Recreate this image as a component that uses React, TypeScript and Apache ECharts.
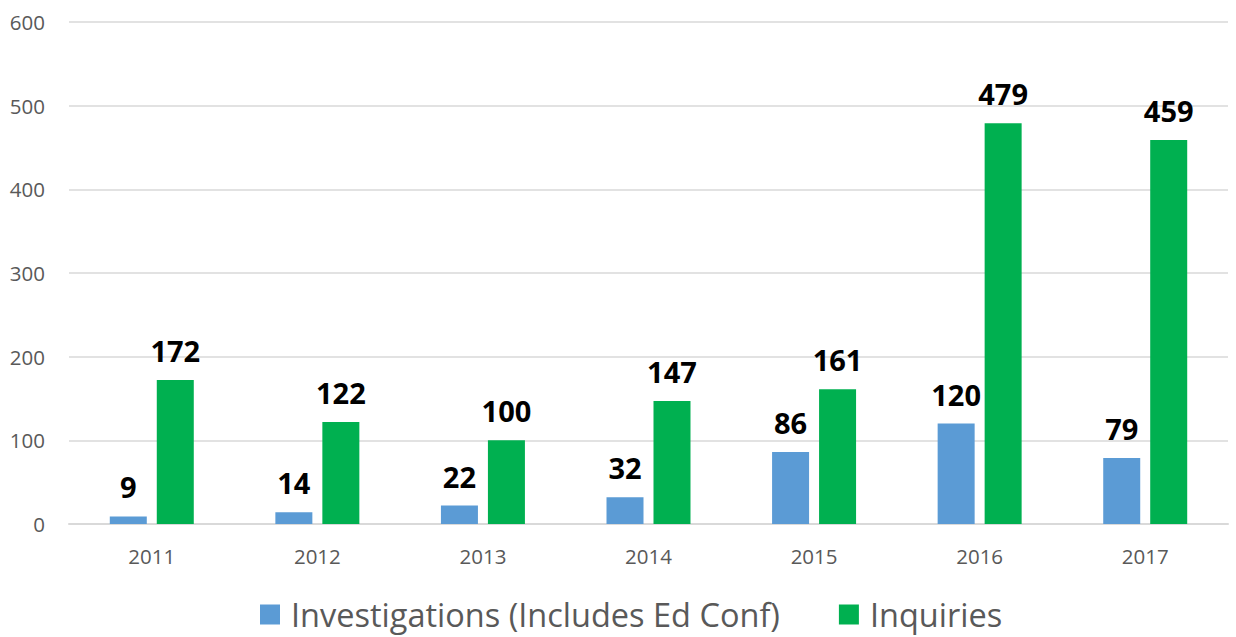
import React, { useEffect, useRef } from "react";
import * as echarts from "echarts";

const years = ["2011", "2012", "2013", "2014", "2015", "2016", "2017"];
const investigations = [9, 14, 22, 32, 86, 120, 79];
const inquiries = [172, 122, 100, 147, 161, 479, 459];
const seriesNames = ["Investigations (Includes Ed Conf)", "Inquiries"];

const FONT = "'Open Sans', 'DejaVu Sans', sans-serif";

export default function App() {
  const ref = useRef<HTMLDivElement>(null);
  useEffect(() => {
    if (!ref.current) return;
    const chart = echarts.init(ref.current, undefined, { renderer: "svg" });
    const label = {
      show: true,
      position: "top" as const,
      distance: 15,
      color: "#000000",
      fontWeight: "bold" as const,
      fontSize: 29,
      fontFamily: FONT,
    };
    chart.setOption({
      animation: false,
      textStyle: { fontFamily: FONT },
      grid: { left: 69, right: 8, top: 22, bottom: 113, containLabel: false },
      legend: {
        bottom: 1,
        left: 255,
        icon: "rect",
        itemWidth: 20,
        itemHeight: 20,
        itemGap: 59,
        textStyle: { fontSize: 32.5, color: "#595959", fontFamily: FONT, padding: [0, 0, 0, 6] },
        data: seriesNames,
      },
      xAxis: {
        type: "category",
        data: years,
        axisLine: { show: true, lineStyle: { color: "#D9D9D9", width: 2 } },
        axisTick: { show: false },
        axisLabel: { color: "#595959", fontSize: 20.5, margin: 21, fontFamily: FONT },
      },
      yAxis: {
        type: "value",
        min: 0,
        max: 600,
        interval: 100,
        axisLine: { show: false },
        axisTick: { show: false },
        axisLabel: { color: "#595959", fontSize: 20.5, margin: 24, fontFamily: FONT },
        splitLine: { lineStyle: { color: "#D9D9D9", width: 1.5 } },
      },
      series: [
        {
          name: seriesNames[0],
          type: "bar",
          data: investigations,
          barWidth: 37,
          barGap: "27%",
          itemStyle: { color: "#5B9BD5" },
          label,
        },
        {
          name: seriesNames[1],
          type: "bar",
          data: inquiries,
          barWidth: 37,
          barGap: "27%",
          itemStyle: { color: "#00B050" },
          label,
        },
      ],
    });
    return () => chart.dispose();
  }, []);
  return (
    <div
      ref={ref}
      style={{ position: "fixed", left: 0, top: 0, width: 1236, height: 637, background: "#fff" }}
    />
  );
}
